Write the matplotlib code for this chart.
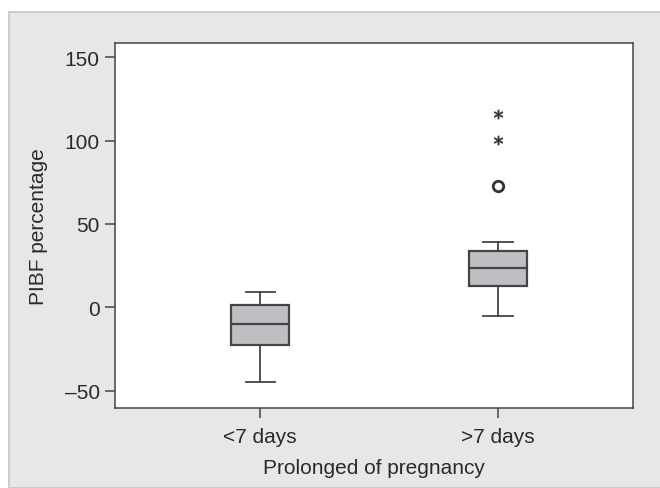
import matplotlib.pyplot as plt
from matplotlib.patches import Rectangle

plt.rcParams['font.family'] = ['Liberation Sans', 'DejaVu Sans']

groups = ['<7 days', '>7 days']
whisker_low = [-44.6, -5.3]
q1 = [-22.6, 12.7]
medians = [-10.0, 23.5]
q3 = [1.5, 33.6]
whisker_high = [9.1, 39.0]
outliers = [[], [72.9]]
extremes = [[], [100.5, 115.9]]
yticks = [-50, 0, 50, 100, 150]

fig = plt.figure(figsize=(6.6, 4.89), dpi=100)
fig.patch.set_facecolor('white')
fig.patches.append(Rectangle((9 / 660, 0), 1, 1 - 13 / 489, transform=fig.transFigure,
                             facecolor='#e6e7e9', edgecolor='#c4c5c7', linewidth=1.2, zorder=-5))

ax = fig.add_axes([115 / 660, 1 - 409 / 489, (633 - 115) / 660, (409 - 44) / 489])
ax.set_zorder(2)
ax.set_facecolor('white')

stats = []
for i in range(len(groups)):
    stats.append({'med': medians[i], 'q1': q1[i], 'q3': q3[i],
                  'whislo': whisker_low[i], 'whishi': whisker_high[i],
                  'fliers': [], 'label': groups[i]})

pos = [1, 2]
ax.bxp(stats, positions=pos, widths=0.246, patch_artist=True, showfliers=False,
       boxprops=dict(facecolor='#bebfc3', edgecolor='#444444', linewidth=1.6),
       medianprops=dict(color='#444444', linewidth=1.6),
       whiskerprops=dict(color='#444444', linewidth=1.3),
       capprops=dict(color='#444444', linewidth=1.3))

for p, vals in zip(pos, outliers):
    ax.plot([p] * len(vals), vals, linestyle='none', marker='o', markersize=7.5,
            markerfacecolor='white', markeredgecolor='#333333', markeredgewidth=2)
for p, vals in zip(pos, extremes):
    ax.plot([p] * len(vals), vals, linestyle='none', marker='$*$', markersize=6.5,
            color='#333333', markeredgewidth=0.5)

ax.set_xlim(0.39, 2.567)
ax.set_ylim(-60.2, 158.4)
ax.set_yticks(yticks)
ax.set_yticklabels([str(t).replace('-', '\u2013') for t in yticks])
ax.set_xticks(pos)
ax.set_xticklabels(groups)
for s in ax.spines.values():
    s.set_color('#444444')
    s.set_linewidth(1.1)
ax.tick_params(direction='out', length=7, width=1.1, color='#444444',
               labelsize=15, labelcolor='#2a2a2a', pad=4)
ax.tick_params(axis='x', pad=7)
ax.set_xlabel('Prolonged of pregnancy', fontsize=15, color='#2a2a2a', labelpad=8)
ax.set_ylabel('PIBF percentage', fontsize=15, color='#2a2a2a', labelpad=12)

plt.savefig('out.png', dpi=100, facecolor=fig.get_facecolor())
